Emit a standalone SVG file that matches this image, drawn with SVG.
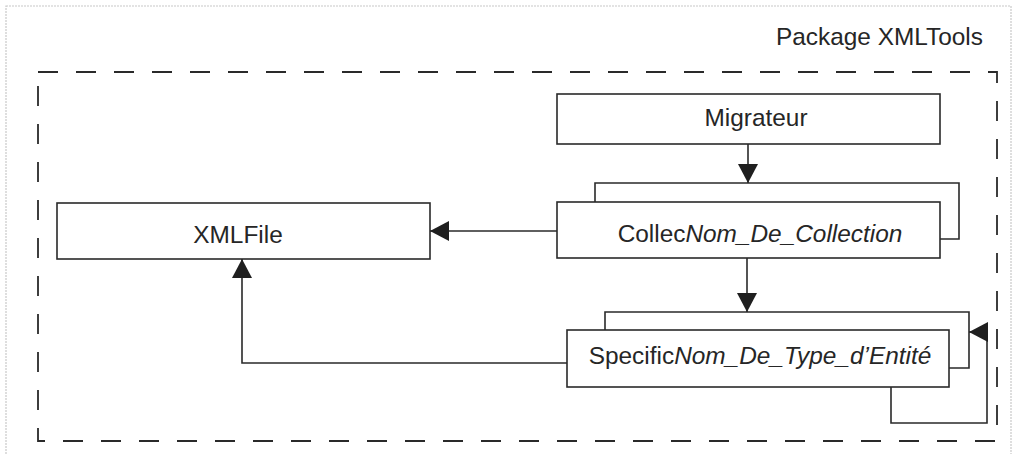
<svg xmlns="http://www.w3.org/2000/svg" width="1014" height="454" viewBox="0 0 1014 454">
<style>
.box{fill:#fff;stroke:#2a2a2a;stroke-width:1.6}
.shadow{fill:none;stroke:#2a2a2a;stroke-width:1.6}
.lbl{font-family:"Liberation Sans",Arial,sans-serif;font-size:24.4px;fill:#262626;text-anchor:middle}
.conn{fill:none;stroke:#2a2a2a;stroke-width:1.6}
</style>
<defs>
<marker id="arr" viewBox="0 0 19 20" refX="19" refY="10" markerWidth="19" markerHeight="20" markerUnits="userSpaceOnUse" orient="auto">
<path d="M0,0 L19,10 L0,20 z" fill="#1f1f1f"/>
</marker>
</defs>
<rect width="1014" height="454" fill="#fff"/>
<rect x="6" y="6" width="1005" height="470" fill="none" stroke="#c8c8c8" stroke-width="1.2" stroke-dasharray="2 1"/>
<g id="package">
<rect x="38" y="72" width="959" height="369" fill="none" stroke="#2a2a2a" stroke-width="1.8" stroke-dasharray="20 18"/>
<text class="lbl" x="983" y="45" style="text-anchor:end">Package XMLTools</text>
</g>
<g id="migrateur">
<rect class="box" x="557" y="94" width="383" height="50"/>
<text class="lbl" x="756" y="126">Migrateur</text>
</g>
<g id="collec">
<polyline class="shadow" points="595,202 595,183 959,183 959,239 940,239"/>
<rect class="box" x="557" y="202" width="383" height="56"/>
<text class="lbl" x="760" y="242">Collec<tspan font-style="italic">Nom_De_Collection</tspan></text>
</g>
<g id="xmlfile">
<rect class="box" x="57" y="203" width="373" height="56"/>
<text class="lbl" x="238" y="243">XMLFile</text>
</g>
<g id="specific">
<polyline class="shadow" points="605,330 605,312 969,312 969,368 949,368"/>
<rect class="box" x="567" y="330" width="382" height="57"/>
<text class="lbl" x="760" y="364">Specific<tspan font-style="italic">Nom_De_Type_d’Entité</tspan></text>
</g>
<g id="connectors">
<line class="conn" x1="748" y1="144" x2="748" y2="183" marker-end="url(#arr)"/>
<line class="conn" x1="557" y1="231" x2="430" y2="231" marker-end="url(#arr)"/>
<line class="conn" x1="747" y1="258" x2="747" y2="312" marker-end="url(#arr)"/>
<polyline class="conn" points="567,363 242,363 242,259" marker-end="url(#arr)"/>
<polyline class="conn" points="891,387 891,423 987,423 987,332 969,332" marker-end="url(#arr)"/>
</g>
</svg>
